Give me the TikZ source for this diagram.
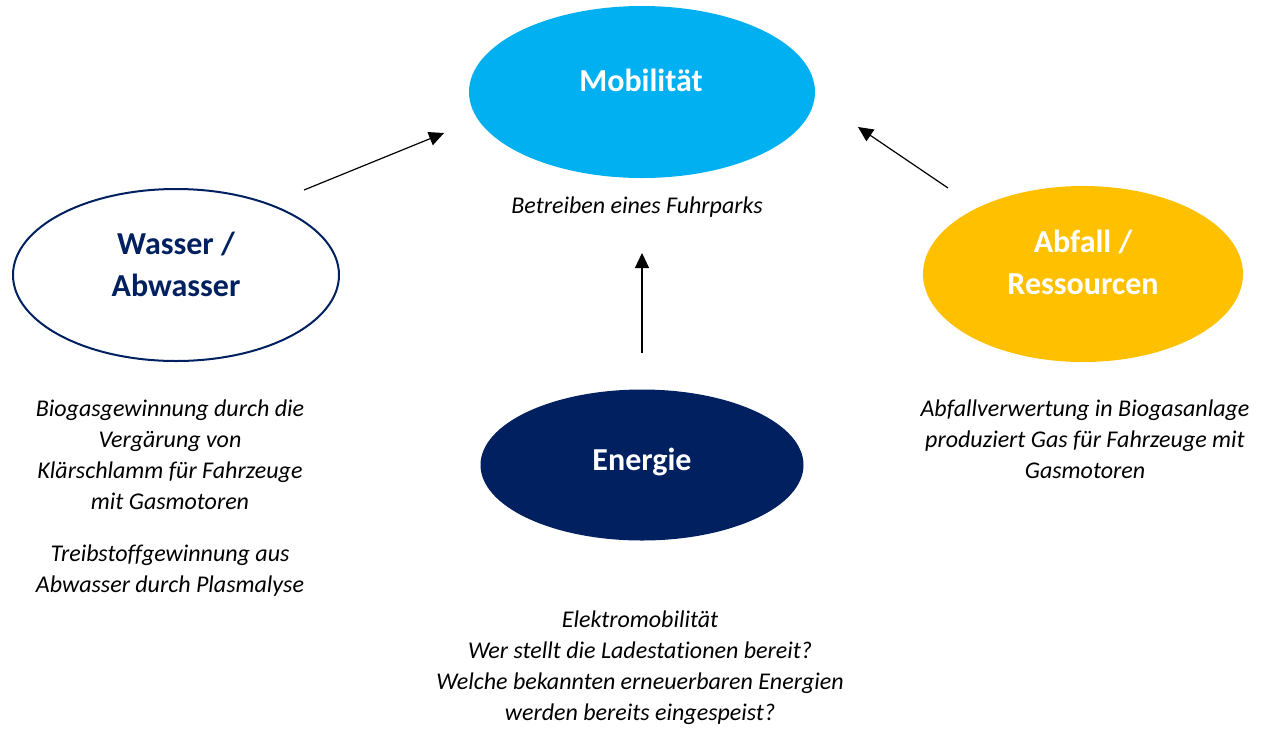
\documentclass[tikz,border=0pt]{standalone}
\usepackage{fontspec}
\setmainfont{Carlito}[Ligatures=NoCommon]
\usetikzlibrary{arrows.meta,shapes.geometric}
\definecolor{mobilblue}{HTML}{00B0F0}
\definecolor{navy}{HTML}{002060}
\definecolor{wasteyellow}{HTML}{FFC000}

\begin{document}
\begin{tikzpicture}[x=1pt,y=-1pt]
\useasboundingbox[fill=white] (0,0) rectangle (1264,729);

\begin{scope}[every node/.style={ellipse,inner sep=0pt}]
    \node[fill=mobilblue,minimum width=346,minimum height=172] (mobil) at (642,92) {};
    \node[draw=navy,line width=2pt,fill=white,minimum width=326,minimum height=172] (wasser) at (176,275) {};
    \node[fill=wasteyellow,minimum width=320,minimum height=176] (abfall) at (1083,274) {};
    \node[fill=navy,minimum width=323,minimum height=151] (energie) at (642,465) {};
\end{scope}

\begin{scope}[every node/.style={font=\fontsize{32}{42}\selectfont\bfseries,align=center}]
    \node[white] (mobil-t) at (641,80) {Mobilität};
    \node[navy] (wasser-t) at (176,264) {Wasser /\\Abwasser};
    \node[white] (abfall-t) at (1083,262) {Abfall /\\Ressourcen};
    \node[white] (energie-t) at (642,462) {Energie};
\end{scope}

\begin{scope}[every node/.style={font=\fontsize{24}{31}\selectfont\itshape,align=center}]
    \node (mobil-d) at (637,207) {Betreiben eines Fuhrparks};
    \node (wasser-d1) at (170,455) {Biogasgewinnung durch die\\Vergärung von\\Klärschlamm für Fahrzeuge\\mit Gasmotoren};
    \node (wasser-d2) at (170,571) {Treibstoffgewinnung aus\\Abwasser durch Plasmalyse};
    \node (abfall-d) at (1085,439) {Abfallverwertung in Biogasanlage\\produziert Gas für Fahrzeuge mit\\Gasmotoren};
    \node (energie-d) at (640,668) {Elektromobilität\\Wer stellt die Ladestationen bereit?\\Welche bekannten erneuerbaren Energien\\werden bereits eingespeist?};
\end{scope}

\begin{scope}[>={Triangle[length=15pt,width=14pt]}, line width=1.2pt]
    \coordinate (w-start) at (304,190);
    \coordinate (w-end) at (444,133);
    \coordinate (a-start) at (948,188);
    \coordinate (a-end) at (858,127);
    \coordinate (e-start) at (642,353);
    \coordinate (e-end) at (642,253);
    \draw[->] (w-start) -- (w-end);
    \draw[->] (a-start) -- (a-end);
    \draw[->] (e-start) -- (e-end);
\end{scope}
\end{tikzpicture}
\end{document}
